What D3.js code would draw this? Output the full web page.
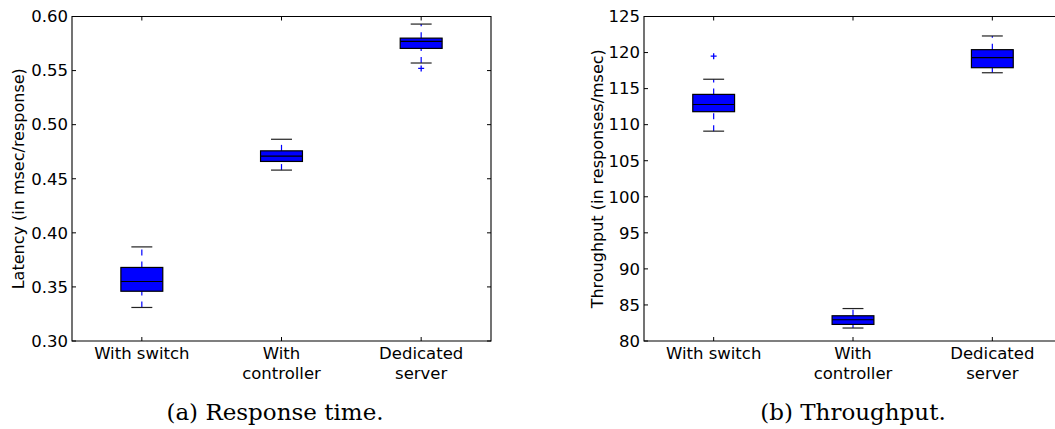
<!DOCTYPE html>
<html>
<head>
<meta charset="utf-8">
<script src="https://cdn.jsdelivr.net/npm/d3@7"></script>
<style>
  html, body { margin: 0; padding: 0; background: #fff; overflow: hidden; }
  svg { display: block; }
  text { fill: #000; }
</style>
</head>
<body>
<svg id="chart" width="1055" height="429"></svg>
<script>
// Categories shared by both panels
const categories = ["With switch", "With\ncontroller", "Dedicated\nserver"];

// Latency (msec/response): box summaries per category
const latencyWhiskerLow  = [0.331, 0.458, 0.557];
const latencyQ1          = [0.346, 0.466, 0.5705];
const latencyMedian      = [0.355, 0.471, 0.577];
const latencyQ3          = [0.368, 0.4758, 0.580];
const latencyWhiskerHigh = [0.387, 0.4865, 0.593];
const latencyOutliers    = [[], [], [0.552]];
const latencyTicks       = [0.30, 0.35, 0.40, 0.45, 0.50, 0.55, 0.60];

// Throughput (responses/msec): box summaries per category
const tputWhiskerLow  = [109.1, 81.8, 117.2];
const tputQ1          = [111.8, 82.3, 117.9];
const tputMedian      = [112.8, 82.95, 119.3];
const tputQ3          = [114.2, 83.5, 120.4];
const tputWhiskerHigh = [116.3, 84.5, 122.3];
const tputOutliers    = [[119.5], [], []];
const tputTicks       = [80, 85, 90, 95, 100, 105, 110, 115, 120, 125];

const svg = d3.select("#chart");
const FONT = "'DejaVu Sans', sans-serif";

function panel(opts) {
  const { left, right, top, bottom, domain, ticks, fmt,
          lo, q1, med, q3, hi, outliers, ylabel, ylabelX, caption, captionX, clipRight } = opts;

  const x = d3.scaleLinear().domain([0.5, 3.5]).range([left, right]);
  const y = d3.scaleLinear().domain(domain).range([bottom, top]);
  const g = svg.append("g");

  const boxW = 0.3, capW = 0.15;
  const data = categories.map((c, i) => ({
    pos: i + 1, lo: lo[i], q1: q1[i], med: med[i], q3: q3[i], hi: hi[i], out: outliers[i]
  }));

  data.forEach(d => {
    // whiskers (blue dashed)
    [[d.q3, d.hi], [d.lo, d.q1]].forEach(([a, b]) => {
      g.append("line")
        .attr("x1", x(d.pos)).attr("x2", x(d.pos))
        .attr("y1", y(a)).attr("y2", y(b))
        .attr("stroke", "#0000ff").attr("stroke-width", 1.2)
        .attr("stroke-dasharray", "6,6");
    });
    // caps
    [d.lo, d.hi].forEach(v => {
      g.append("line")
        .attr("x1", x(d.pos - capW / 2)).attr("x2", x(d.pos + capW / 2))
        .attr("y1", y(v)).attr("y2", y(v))
        .attr("stroke", "#222").attr("stroke-width", 1.2);
    });
    // box
    g.append("rect")
      .attr("x", x(d.pos - boxW / 2)).attr("width", x(d.pos + boxW / 2) - x(d.pos - boxW / 2))
      .attr("y", y(d.q3)).attr("height", y(d.q1) - y(d.q3))
      .attr("fill", "#0000ff").attr("stroke", "#000").attr("stroke-width", 1.2);
    // median
    g.append("line")
      .attr("x1", x(d.pos - boxW / 2)).attr("x2", x(d.pos + boxW / 2))
      .attr("y1", y(d.med)).attr("y2", y(d.med))
      .attr("stroke", "#000").attr("stroke-width", 1.2);
    // outliers
    d.out.forEach(v => {
      g.append("path")
        .attr("d", `M${x(d.pos) - 3},${y(v)}h6M${x(d.pos)},${y(v) - 3}v6`)
        .attr("stroke", "#0000ff").attr("stroke-width", 1.3);
    });
  });

  // frame
  const frame = clipRight
    ? `M${right + 20},${top}H${left}V${bottom}H${right + 20}`
    : `M${left},${top}H${right}V${bottom}H${left}Z`;
  g.append("path").attr("d", frame).attr("fill", "none")
    .attr("stroke", "#000").attr("stroke-width", 1.1);

  // y axis with inward ticks on both sides
  const yAxis = g.append("g").attr("transform", `translate(${left},0)`)
    .call(d3.axisLeft(y).tickValues(ticks).tickFormat(fmt).tickSize(0).tickPadding(4));
  yAxis.select(".domain").remove();
  yAxis.selectAll("text").attr("font-family", FONT).attr("font-size", 16.5).attr("fill", "#000");
  ticks.forEach(t => {
    g.append("line").attr("x1", left).attr("x2", left + 4).attr("y1", y(t)).attr("y2", y(t))
      .attr("stroke", "#000").attr("stroke-width", 1);
    if (!clipRight)
      g.append("line").attr("x1", right).attr("x2", right - 4).attr("y1", y(t)).attr("y2", y(t))
        .attr("stroke", "#000").attr("stroke-width", 1);
  });

  // x axis: category ticks top and bottom, multi-line labels
  data.forEach((d, i) => {
    g.append("line").attr("x1", x(d.pos)).attr("x2", x(d.pos)).attr("y1", bottom).attr("y2", bottom - 4)
      .attr("stroke", "#000");
    g.append("line").attr("x1", x(d.pos)).attr("x2", x(d.pos)).attr("y1", top).attr("y2", top + 4)
      .attr("stroke", "#000");
    const t = g.append("text").attr("text-anchor", "middle")
      .attr("font-family", FONT).attr("font-size", 16.5);
    categories[i].split("\n").forEach((line, k) => {
      t.append("tspan").attr("x", x(d.pos)).attr("y", bottom + 18 + k * 19.5).text(line);
    });
  });

  // y label
  g.append("text")
    .attr("transform", `translate(${ylabelX},${(top + bottom) / 2}) rotate(-90)`)
    .attr("text-anchor", "middle").attr("dominant-baseline", "middle")
    .attr("font-family", FONT).attr("font-size", 16)
    .text(ylabel);

  // caption
  g.append("text")
    .attr("x", captionX).attr("y", 420)
    .attr("text-anchor", "middle")
    .attr("font-family", "'DejaVu Serif', serif").attr("font-size", 23)
    .text(caption);
}

panel({
  left: 72, right: 491, top: 16.5, bottom: 341,
  domain: [0.30, 0.60], ticks: latencyTicks, fmt: d3.format(".2f"),
  lo: latencyWhiskerLow, q1: latencyQ1, med: latencyMedian, q3: latencyQ3, hi: latencyWhiskerHigh,
  outliers: latencyOutliers,
  ylabel: "Latency (in msec/response)", ylabelX: 19,
  caption: "(a) Response time.", captionX: 275, clipRight: false
});

panel({
  left: 644, right: 1062, top: 16.5, bottom: 341,
  domain: [80, 125], ticks: tputTicks, fmt: d3.format("d"),
  lo: tputWhiskerLow, q1: tputQ1, med: tputMedian, q3: tputQ3, hi: tputWhiskerHigh,
  outliers: tputOutliers,
  ylabel: "Throughput (in responses/msec)", ylabelX: 598,
  caption: "(b) Throughput.", captionX: 853, clipRight: true
});
</script>
</body>
</html>
